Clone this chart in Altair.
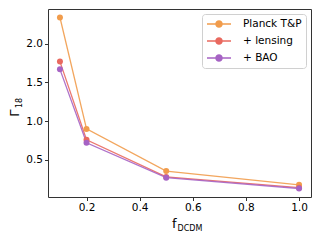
import altair as alt
import pandas as pd

f_dcdm = [0.1, 0.2, 0.5, 1.0]
planck = [2.34, 0.90, 0.355, 0.178]
lensing = [1.77, 0.76, 0.28, 0.14]
bao = [1.67, 0.72, 0.27, 0.13]
series = ["Planck T&P", "+ lensing", "+ BAO"]
colors = ["#f19c4c", "#e9695f", "#a663c4"]
x_ticks = [0.2, 0.4, 0.6, 0.8, 1.0]
y_ticks = [0.5, 1.0, 1.5, 2.0]

rows = []
for name, vals in zip(series, [planck, lensing, bao]):
    for xv, yv in zip(f_dcdm, vals):
        rows.append({"f": xv, "g": yv, "series": name})
df = pd.DataFrame(rows)

FONT = "DejaVu Sans"
xs = alt.Scale(domain=[0.055, 1.045], nice=False, zero=False)
ys = alt.Scale(domain=[0.02, 2.45], nice=False, zero=False)
cdom = alt.Scale(domain=series, range=colors)

xenc = alt.X("f:Q", scale=xs, axis=alt.Axis(values=x_ticks, format=".1f", title=None))
yenc = alt.Y("g:Q", scale=ys, axis=alt.Axis(values=y_ticks, format=".1f", title=None))

# legend symbol: a short line with a dot (dot drawn as concentric rings)
dot = ""
for r in [0.62, 0.48, 0.34, 0.2, 0.08]:
    dot += f"M{-r},0A{r},{r},0,1,1,{r},0A{r},{r},0,1,1,{-r},0"
sym_path = "M-2.4,0L2.4,0" + dot

legend = alt.Legend(
    title=None,
    orient="top-right",
    offset=5,
    padding=4,
    strokeColor="#d0d0d0",
    fillColor="white",
    cornerRadius=3,
    labelFont=FONT,
    labelFontSize=10.5,
    labelColor="black",
    labelOffset=18,
    rowPadding=5,
    symbolType=sym_path,
    symbolSize=100,
    symbolOffset=7,
    symbolStrokeWidth=1.3,
    symbolOpacity=1,
)

lines = alt.Chart(df).mark_line(strokeWidth=1.3, opacity=0.9).encode(
    x=xenc, y=yenc,
    color=alt.Color("series:N", scale=cdom, legend=legend),
    order=alt.Order("f:Q"),
)

points = alt.Chart(df).mark_circle(size=36, opacity=1).encode(
    x=xenc, y=yenc,
    color=alt.Color("series:N", scale=cdom, legend=None),
)

title_df = pd.DataFrame({"t": ["x"]})
gamma = alt.Chart(title_df).mark_text(
    text="Γ", font=FONT, fontSize=13, angle=270, align="center", baseline="alphabetic", color="black"
).encode(x=alt.value(-29), y=alt.value(104))
gamma_sub = alt.Chart(title_df).mark_text(
    text="18", font=FONT, fontSize=8, angle=270, align="center", baseline="alphabetic", color="black"
).encode(x=alt.value(-26), y=alt.value(94))
fx = alt.Chart(title_df).mark_text(
    text="f", font=FONT, fontSize=13, align="left", baseline="alphabetic", color="black"
).encode(x=alt.value(124), y=alt.value(219))
fx_sub = alt.Chart(title_df).mark_text(
    text="DCDM", font=FONT, fontSize=8, align="left", baseline="alphabetic", color="black"
).encode(x=alt.value(129.5), y=alt.value(222))

chart = alt.layer(lines, points, gamma, gamma_sub, fx, fx_sub).properties(
    width=263, height=188,
    autosize=alt.AutoSizeParams(type="none"),
    padding={"left": 40, "top": 1, "right": 1, "bottom": 35},
).configure_view(
    stroke="#333333", strokeWidth=1
).configure_axis(
    grid=False, domain=False,
    labelFont=FONT, labelFontSize=10.5, labelColor="black",
    tickColor="#333333", tickSize=3.5, labelPadding=2,
)

chart.save("out.html", embed_options={"renderer": "svg", "actions": False})
